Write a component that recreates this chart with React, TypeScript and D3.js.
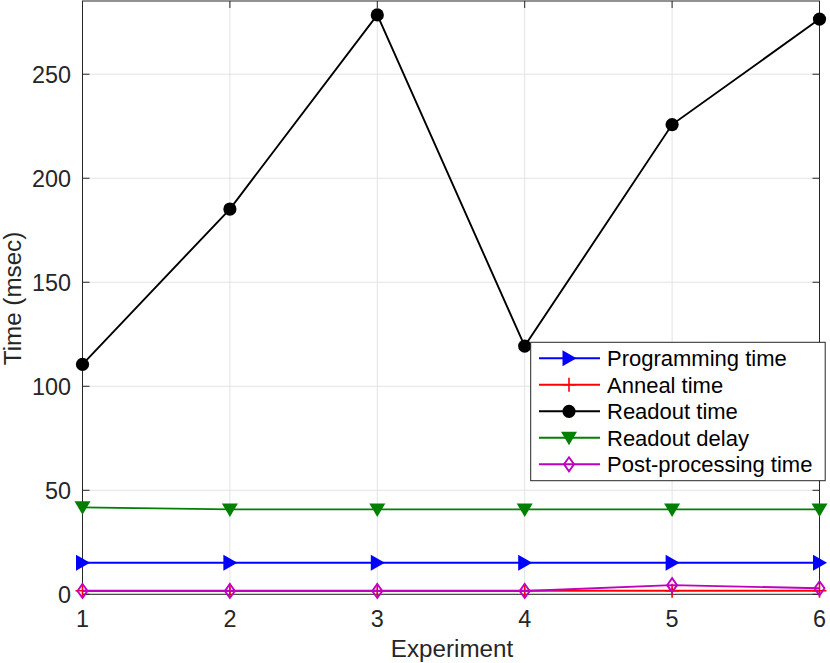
import * as d3 from "d3";

const experiments = [1, 2, 3, 4, 5, 6];
const programmingTime = [15.2, 15.2, 15.2, 15.2, 15.2, 15.2];
const annealTime = [1.7, 1.7, 1.7, 1.7, 1.7, 1.7];
const readoutTime = [110.5, 185.2, 278.5, 119.3, 225.8, 276.5];
const readoutDelay = [41.8, 40.8, 40.8, 40.8, 40.8, 40.8];
const postProcessing = [1.6, 1.6, 1.6, 1.6, 4.4, 2.9];
const yTicks = [0, 50, 100, 150, 200, 250];

type Marker = "triRight" | "plus" | "circle" | "triDown" | "diamond";

const series: { name: string; values: number[]; color: string; marker: Marker }[] = [
  { name: "Programming time", values: programmingTime, color: "#0000ff", marker: "triRight" },
  { name: "Anneal time", values: annealTime, color: "#ff0000", marker: "plus" },
  { name: "Readout time", values: readoutTime, color: "#000000", marker: "circle" },
  { name: "Readout delay", values: readoutDelay, color: "#008000", marker: "triDown" },
  { name: "Post-processing time", values: postProcessing, color: "#bf00bf", marker: "diamond" },
];

const W = 830;
const H = 663;
const left = 82.5;
const right = 819.5;
const top = 1;
const bottom = 594.3;
const font = "'Liberation Sans', Arial, sans-serif";

function MarkerShape({ type, x, y, color }: { type: Marker; x: number; y: number; color: string }) {
  switch (type) {
    case "circle":
      return <circle cx={x} cy={y} r={6.6} fill={color} />;
    case "triRight":
      return <path d={`M${x - 6.5},${y - 8}L${x + 7.5},${y}L${x - 6.5},${y + 8}Z`} fill={color} />;
    case "triDown":
      return <path d={`M${x - 8},${y - 6}L${x + 8},${y - 6}L${x},${y + 7.5}Z`} fill={color} />;
    case "plus":
      return (
        <path d={`M${x - 7},${y}H${x + 7}M${x},${y - 7}V${y + 7}`} stroke={color} strokeWidth={1.6} />
      );
    case "diamond":
      return (
        <path
          d={`M${x},${y - 7}L${x + 5},${y}L${x},${y + 7}L${x - 5},${y}Z`}
          fill="none"
          stroke={color}
          strokeWidth={1.9}
        />
      );
  }
}

export default function App() {
  const x = d3.scaleLinear().domain([1, 6]).range([left, right]);
  const y = d3.scaleLinear().domain([0, 285.2]).range([bottom, top]);
  const line = d3
    .line<number>()
    .x((_, i) => x(experiments[i]))
    .y((d) => y(d));

  const legX = 530.7;
  const legY = 342.3;
  const legW = 294.5;
  const legH = 138.4;
  const rowH = 26.5;

  return (
    <svg
      width={W}
      height={H}
      style={{ position: "absolute", left: 0, top: 0, background: "#fff" }}
      fontFamily={font}
    >
      {/* grid */}
      {experiments.map((e) => (
        <line key={"gx" + e} x1={x(e)} x2={x(e)} y1={top} y2={bottom} stroke="#e3e3e3" strokeWidth={1} />
      ))}
      {yTicks.map((t) => (
        <line key={"gy" + t} x1={left} x2={right} y1={y(t)} y2={y(t)} stroke="#e3e3e3" strokeWidth={1} />
      ))}

      {/* axes box */}
      <rect x={left} y={top} width={right - left} height={bottom - top} fill="none" stroke="#262626" strokeWidth={1} />
      {experiments.map((e) => (
        <g key={"tx" + e}>
          <line x1={x(e)} x2={x(e)} y1={bottom} y2={bottom - 7} stroke="#262626" />
          <line x1={x(e)} x2={x(e)} y1={top} y2={top + 7} stroke="#262626" />
          <text x={x(e)} y={627} textAnchor="middle" fontSize={23.4} fill="#262626">
            {e}
          </text>
        </g>
      ))}
      {yTicks.map((t) => (
        <g key={"ty" + t}>
          <line x1={left} x2={left + 7} y1={y(t)} y2={y(t)} stroke="#262626" />
          <line x1={right} x2={right - 7} y1={y(t)} y2={y(t)} stroke="#262626" />
          <text x={71} y={y(t) + 8.4} textAnchor="end" fontSize={23.4} fill="#262626">
            {t}
          </text>
        </g>
      ))}
      <text x={452} y={656.5} textAnchor="middle" fontSize={24.2} fill="#262626">
        Experiment
      </text>
      <text
        transform={`translate(20.5,298.5) rotate(-90)`}
        textAnchor="middle"
        fontSize={24.2}
        fill="#262626"
      >
        Time (msec)
      </text>

      {/* series */}
      {series.map((s) => (
        <g key={s.name}>
          <path d={line(s.values) || ""} fill="none" stroke={s.color} strokeWidth={1.9} />
          {s.values.map((v, i) => (
            <MarkerShape key={i} type={s.marker} x={x(experiments[i])} y={y(v)} color={s.color} />
          ))}
        </g>
      ))}

      {/* legend */}
      <rect x={legX} y={legY} width={legW} height={legH} fill="#fff" stroke="#262626" strokeWidth={1} />
      {series.map((s, i) => {
        const cy = 358.3 + i * rowH;
        return (
          <g key={"leg" + s.name}>
            <line x1={539} x2={600} y1={cy} y2={cy} stroke={s.color} strokeWidth={1.9} />
            <MarkerShape type={s.marker} x={569} y={cy} color={s.color} />
            <text x={607} y={cy + 7.7} fontSize={22} fill="#000">
              {s.name}
            </text>
          </g>
        );
      })}
    </svg>
  );
}
